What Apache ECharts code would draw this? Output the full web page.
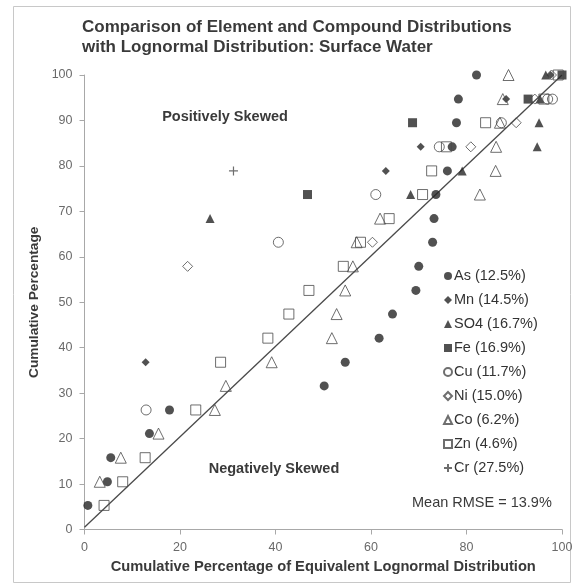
<!DOCTYPE html>
<html>
<head>
<meta charset="utf-8">
<script src="https://cdn.jsdelivr.net/npm/echarts@6/dist/echarts.min.js"></script>
<style>
  html, body { margin: 0; padding: 0; background: #fff; }
  #chart { width: 578px; height: 588px; }
</style>
</head>
<body>
<div id="chart"></div>
<script>
// Element / compound names and their RMSE against the lognormal fit
const elementNames = ['As', 'Mn', 'SO4', 'Fe', 'Cu', 'Ni', 'Co', 'Zn', 'Cr'];
const rmseLabels = ['12.5%', '14.5%', '16.7%', '16.9%', '11.7%', '15.0%', '6.2%', '4.6%', '27.5%'];
const meanRmse = '13.9%';

// Axis ticks
const xTickValues = [0, 20, 40, 60, 80, 100];
const yTickValues = [0, 10, 20, 30, 40, 50, 60, 70, 80, 90, 100];

// [lognormal cumulative %, observed cumulative %]
const asData = [[0.7, 5.3], [4.8, 10.5], [5.5, 15.8], [13.6, 21.1], [17.8, 26.3], [50.2, 31.6], [54.6, 36.8],
  [61.7, 42.1], [64.5, 47.4], [69.4, 52.6], [70.0, 57.9], [72.9, 63.2], [73.2, 68.4], [73.6, 73.7],
  [76.0, 78.9], [77.0, 84.2], [77.9, 89.5], [78.3, 94.7], [82.1, 100]];
const mnData = [[12.8, 36.8], [63.1, 78.9], [70.4, 84.2], [88.3, 94.7], [97.6, 100]];
const so4Data = [[26.3, 68.4], [68.3, 73.7], [79.1, 78.9], [94.8, 84.2], [95.2, 89.5], [95.4, 94.7], [96.6, 100]];
const feData = [[46.7, 73.7], [68.7, 89.5], [92.9, 94.7], [100, 100]];
const cuData = [[12.9, 26.3], [40.6, 63.2], [61.0, 73.7], [74.3, 84.2], [87.3, 89.5], [97.0, 94.7], [98.0, 94.7]];
const niData = [[21.6, 57.9], [60.3, 63.2], [80.9, 84.2], [90.4, 89.5], [94.3, 94.7], [97.8, 100]];
const coData = [[3.2, 10.5], [7.6, 15.8], [15.5, 21.1], [27.3, 26.3], [29.6, 31.6], [39.2, 36.8], [51.8, 42.1],
  [52.8, 47.4], [54.6, 52.6], [56.2, 57.9], [57.0, 63.2], [61.9, 68.4], [82.8, 73.7], [86.1, 78.9],
  [86.2, 84.2], [87.0, 89.5], [87.6, 94.7], [88.8, 100]];
const znData = [[4.1, 5.3], [8.0, 10.5], [12.7, 15.8], [23.3, 26.3], [28.5, 36.8], [38.4, 42.1], [42.8, 47.4],
  [47.0, 52.6], [54.2, 57.9], [57.8, 63.2], [63.8, 68.4], [70.8, 73.7], [72.7, 78.9], [75.8, 84.2],
  [84.0, 89.5], [96.2, 94.7], [99.2, 100]];
const crData = [[31.2, 78.9]];

// 1:1 reference line
const unityLine = [[0, 0.5], [100, 100]];

const seriesData = [asData, mnData, so4Data, feData, cuData, niData, coData, znData, crData];

const DARK = '#262626';
const OPEN = '#4a4a4a';
const CROSS = 'path://M5,0L5,10M0,5L10,5';

const markerStyles = [
  { symbol: 'circle', size: 9, itemStyle: { color: DARK } },
  { symbol: 'diamond', size: 8, itemStyle: { color: DARK } },
  { symbol: 'triangle', size: 9, itemStyle: { color: DARK } },
  { symbol: 'rect', size: 9, itemStyle: { color: DARK } },
  { symbol: 'circle', size: 10, itemStyle: { color: 'rgba(255,255,255,0)', borderColor: OPEN, borderWidth: 1 } },
  { symbol: 'diamond', size: 10, itemStyle: { color: 'rgba(255,255,255,0)', borderColor: OPEN, borderWidth: 1 } },
  { symbol: 'triangle', size: 11, itemStyle: { color: 'rgba(255,255,255,0)', borderColor: OPEN, borderWidth: 1 } },
  { symbol: 'rect', size: 10, itemStyle: { color: 'rgba(255,255,255,0)', borderColor: OPEN, borderWidth: 1 } },
  { symbol: CROSS, size: 9, itemStyle: { color: 'rgba(255,255,255,0)', borderColor: OPEN, borderWidth: 1.2 } }
];

const scatterSeries = elementNames.map((name, i) => ({
  name: name,
  type: 'scatter',
  data: seriesData[i],
  symbol: markerStyles[i].symbol,
  symbolSize: markerStyles[i].size,
  itemStyle: markerStyles[i].itemStyle,
  z: 3
}));

const FONT = '"Liberation Sans", Arial, sans-serif';

const chart = echarts.init(document.getElementById('chart'), null, { renderer: 'canvas' });

chart.setOption({
  backgroundColor: '#fff',
  animation: false,
  title: {
    text: 'Comparison of Element and Compound Distributions\nwith Lognormal Distribution: Surface Water',
    left: 82,
    top: 17,
    padding: 0,
    textStyle: { fontFamily: FONT, fontSize: 17, fontWeight: 'bold', color: '#3a3a3a', lineHeight: 20 }
  },
  grid: { left: 84.5, right: 16, top: 75, bottom: 58.5 },
  xAxis: {
    type: 'value',
    min: xTickValues[0],
    max: xTickValues[xTickValues.length - 1],
    interval: xTickValues[1] - xTickValues[0],
    name: 'Cumulative Percentage of Equivalent Lognormal Distribution',
    nameLocation: 'middle',
    nameGap: 30,
    nameTextStyle: { fontFamily: FONT, fontSize: 14.7, fontWeight: 'bold', color: '#3a3a3a' },
    axisLine: { lineStyle: { color: '#a8a8a8', width: 1 } },
    axisTick: { show: true, length: 5, lineStyle: { color: '#a8a8a8' } },
    axisLabel: { margin: 12, fontFamily: FONT, fontSize: 12.5, color: '#6a6a6a' },
    splitLine: { show: false }
  },
  yAxis: {
    type: 'value',
    min: yTickValues[0],
    max: yTickValues[yTickValues.length - 1],
    interval: yTickValues[1] - yTickValues[0],
    name: 'Cumulative Percentage',
    nameLocation: 'middle',
    nameGap: 38,
    nameRotate: 90,
    nameTextStyle: { fontFamily: FONT, fontSize: 13.7, fontWeight: 'bold', color: '#3a3a3a' },
    axisLine: { show: true, lineStyle: { color: '#a8a8a8', width: 1 } },
    axisTick: { show: true, length: 5, lineStyle: { color: '#a8a8a8' } },
    axisLabel: { margin: 12, fontFamily: FONT, fontSize: 12.5, color: '#6a6a6a' },
    splitLine: { show: false }
  },
  legend: {
    data: elementNames,
    orient: 'vertical',
    left: 443,
    top: 268,
    padding: 0,
    itemWidth: 8,
    itemHeight: 8,
    itemGap: 8,
    selectedMode: false,
    textStyle: { fontFamily: FONT, fontSize: 14.5, color: '#333', lineHeight: 16, padding: [0, 0, 0, -3] },
    formatter: name => name + ' (' + rmseLabels[elementNames.indexOf(name)] + ')'
  },
  graphic: [
    {
      type: 'rect',
      shape: { x: 13.5, y: 6.5, width: 557, height: 576 },
      style: { fill: 'none', stroke: '#c8c8c8', lineWidth: 1 },
      z: 0
    },
    {
      type: 'text',
      x: 225, y: 117,
      style: { text: 'Positively Skewed', font: 'bold 14.5px ' + FONT, fill: '#3a3a3a', align: 'center', verticalAlign: 'middle' }
    },
    {
      type: 'text',
      x: 274, y: 469,
      style: { text: 'Negatively Skewed', font: 'bold 14.5px ' + FONT, fill: '#3a3a3a', align: 'center', verticalAlign: 'middle' }
    },
    {
      type: 'text',
      x: 412, y: 503,
      style: { text: 'Mean RMSE = ' + meanRmse, font: '14.5px ' + FONT, fill: '#3a3a3a', align: 'left', verticalAlign: 'middle' }
    }
  ],
  series: [
    {
      name: 'unity',
      type: 'line',
      data: unityLine,
      showSymbol: false,
      symbol: 'none',
      lineStyle: { color: '#4a4a4a', width: 1.3 },
      z: 2,
      silent: true
    }
  ].concat(scatterSeries)
});
</script>
</body>
</html>
